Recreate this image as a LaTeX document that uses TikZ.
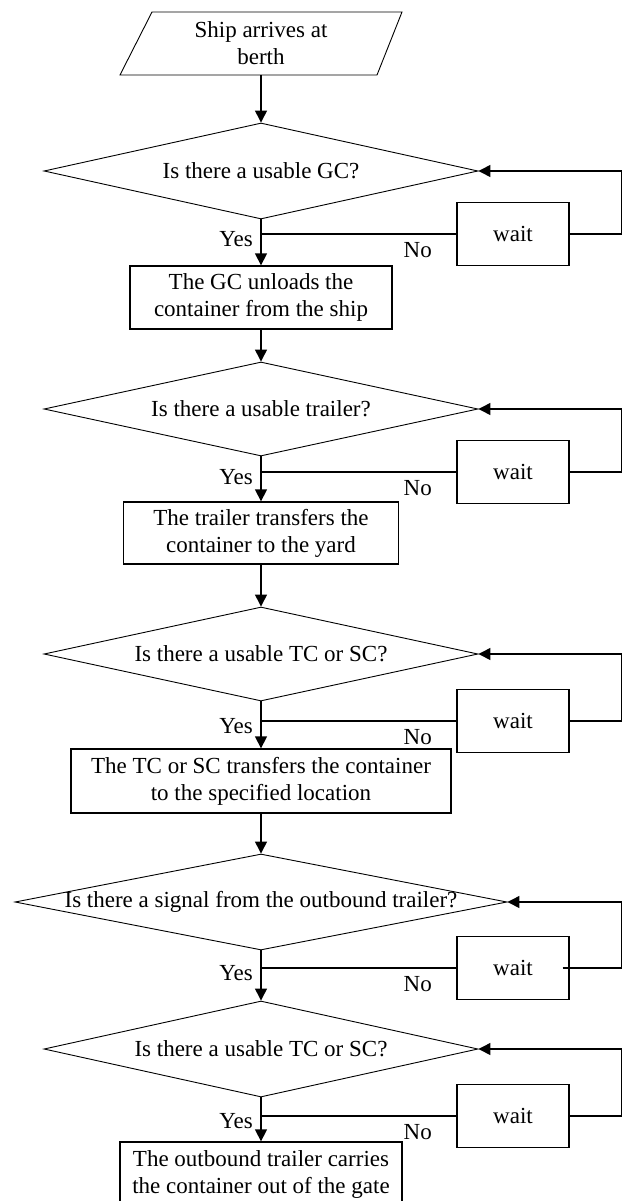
\documentclass[tikz,border=0pt]{standalone}
\usepackage{fontspec}
\setmainfont{Liberation Serif}
\usetikzlibrary{shapes.geometric,arrows.meta,calc}
\begin{document}
\begin{tikzpicture}[x=1pt,y=-1pt,
  every node/.style={font=\fontsize{23}{27}\selectfont},
  proc/.style={draw, line width=1.3pt, align=center, inner sep=0pt},
  dec/.style={draw, diamond, line width=0.9pt, inner sep=0pt},
  waitbox/.style={draw, line width=1.3pt, minimum width=112pt, minimum height=63pt, inner sep=0pt},
  flow/.style={line width=1.3pt, -{Triangle[length=12pt,width=12pt]}},
  link/.style={line width=1.3pt},
  lab/.style={anchor=east, inner sep=0pt},
]
\useasboundingbox (0,0) rectangle (622,1201);

% start (parallelogram)
\node[align=center, inner sep=0pt, minimum height=63pt] (start) at (261,43.5) {Ship arrives at\\berth};
\draw[line width=0.9pt] ($(start.center)+(-141,31.5)$) -- ($(start.center)+(-109,-31.5)$)
  -- ($(start.center)+(141,-31.5)$) -- ($(start.center)+(116,31.5)$) -- cycle;

% decisions
\node[dec, minimum width=434pt, minimum height=96pt, label=center:{Is there a usable GC?}] (d1) at (261,171) {};
\node[dec, minimum width=434pt, minimum height=94pt, label=center:{Is there a usable trailer?}] (d2) at (261,409) {};
\node[dec, minimum width=434pt, minimum height=94pt, label=center:{Is there a usable TC or SC?}] (d3) at (261,654) {};
\node[dec, minimum width=492pt, minimum height=96pt, label=center:{Is there a signal from the outbound trailer?}] (d4) at (261,902) {};
\node[dec, minimum width=434pt, minimum height=96pt, label=center:{Is there a usable TC or SC?}] (d5) at (261,1049) {};

% processes
\node[proc, minimum width=262pt, minimum height=63pt] (b1) at (261,297.5) {The GC unloads the\\container from the ship};
\node[proc, minimum width=275pt, minimum height=62pt] (b2) at (261,533) {The trailer transfers the\\container to the yard};
\node[proc, minimum width=380pt, minimum height=64pt] (b3) at (261,781) {The TC or SC transfers the container\\to the specified location};
\node[proc, minimum width=282pt, minimum height=64pt] (b5) at (261,1174) {The outbound trailer carries\\the container out of the gate};

% wait boxes
\node[waitbox] (w1) at (513,234) {wait};
\node[waitbox] (w2) at (513,472) {wait};
\node[waitbox] (w3) at (513,721) {wait};
\node[waitbox] (w4) at (513,968) {wait};
\node[waitbox] (w5) at (513,1116) {wait};

% main flow
\draw[flow] (start.south) -- (d1.north);
\draw[flow] (d1.south) -- (b1.north);
\draw[flow] (b1.south) -- (d2.north);
\draw[flow] (d2.south) -- (b2.north);
\draw[flow] (b2.south) -- (d3.north);
\draw[flow] (d3.south) -- (b3.north);
\draw[flow] (b3.south) -- (d4.north);
\draw[flow] (d4.south) -- (d5.north);
\draw[flow] (d5.south) -- (b5.north);

% "No" branches and waiting loops
\foreach \i in {1,2,3,5} {
  \coordinate (j\i) at (d\i.south |- w\i.west);
  \draw[link] (j\i) -- (w\i.west);
  \draw[flow] (w\i.east) -- ++(52,0) |- (d\i.east);
  \node[lab] (y\i) at ($(j\i)+(-8,5)$) {Yes};
  \node[lab] (n\i) at ($(j\i)+(171,16)$) {No};
}
\coordinate (j4) at (d4.south |- w4.west);
\draw[link] (j4) -- (w4.west);
\draw[flow] ([xshift=-7pt]w4.east) -- ++(59,0) |- (d4.east);
\node[lab] (y4) at ($(j4)+(-8,5)$) {Yes};
\node[lab] (n4) at ($(j4)+(171,16)$) {No};
\end{tikzpicture}
\end{document}
